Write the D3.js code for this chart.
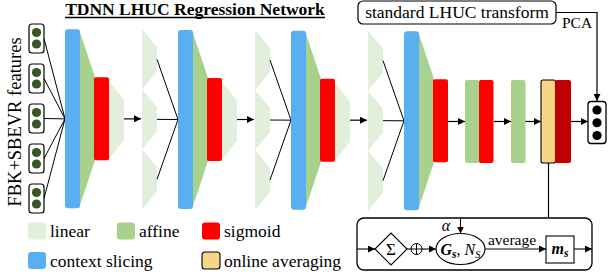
<!DOCTYPE html>
<html>
<head>
<script src="https://d3js.org/d3.v7.min.js"></script>
<style>
  body { margin: 0; background: #fff; }
  svg text { font-family: "Liberation Serif", "Times New Roman", serif; fill: #000; }
</style>
</head>
<body>
<svg width="610" height="275" id="mainSvg" font-family="Liberation Serif"></svg>
<script>
// ---- diagram content ----
const title = "TDNN LHUC Regression Network";
const inputLabel = "FBK+SBEVR features";
const featureFrames = ["t-2", "t-1", "t", "t+1", "t+2"];
const tdnnBlocks = [0, 1, 2, 3];
const spliceTaps = ["-1", "0", "+1"];
const outputNodes = [0, 1, 2];
const legendLabels = ["linear", "affine", "sigmoid", "context slicing", "online averaging"];
const legendKeys = ["linear", "affine", "sigmoid", "context", "online"];

const colors = {
  linear: "#e2efda",
  affine: "#a9d18e",
  sigmoid: "#ff0000",
  context: "#5aaff0",
  online: "#f6d686",
  "output sigmoid": "#c00000",
  feat: "#375623"
};

const svg = d3.select("#mainSvg");
const defs = svg.append("defs");
defs.append("marker").attr("id", "arr")
  .attr("viewBox", "0 0 10 10").attr("refX", 10).attr("refY", 5)
  .attr("markerWidth", 7).attr("markerHeight", 7).attr("markerUnits", "userSpaceOnUse")
  .attr("orient", "auto")
  .append("path").attr("d", "M0,0 L10,5 L0,10 z").attr("fill", "#000");

// slight downward drift of the centre line across the figure
const cy = d3.scaleLinear().domain([0, 610]).range([118.5, 122]);
const xBlock = d3.scaleLinear().domain([0, 3]).range([65, 404]);
const yFeat = d3.scalePoint().domain(featureFrames).range([38.5, 198.5]);
const yTap = d3.scalePoint().domain(spliceTaps).range([0, 2]);

const g = svg.append("g");
const serif = "Liberation Serif";

function poly(pts) { return "M" + pts.map(p => p.join(",")).join("L") + "Z"; }
function label(x, y, size, txt) {
  return g.append("text").attr("x", x).attr("y", y).attr("text-anchor", "middle")
    .attr("font-family", serif).attr("font-size", size).text(txt);
}

// ---- title ----
label(195, 15, 17.5, title).attr("font-weight", "bold");
g.append("line").attr("x1", 65).attr("x2", 325).attr("y1", 17.5).attr("y2", 17.5)
  .attr("stroke", "#000").attr("stroke-width", 1.3);

// ---- input features ----
g.append("text").attr("transform", `translate(21,122) rotate(-90)`)
  .attr("font-family", serif).attr("text-anchor", "middle").attr("font-size", 18.5).text(inputLabel);

const feat = g.selectAll(".feat").data(featureFrames).join("g").attr("class", "feat");
feat.append("line")
  .attr("x1", 44).attr("y1", d => yFeat(d))
  .attr("x2", xBlock(0)).attr("y2", cy(xBlock(0)))
  .attr("stroke", "#000").attr("stroke-width", 1);
feat.append("rect")
  .attr("x", 29).attr("y", d => yFeat(d) - 14.5).attr("width", 15).attr("height", 29)
  .attr("rx", 3).attr("fill", "#fff").attr("stroke", "#000").attr("stroke-width", 1.2);
feat.selectAll("circle").data(d => [yFeat(d) - 6, yFeat(d) + 5.5]).join("circle")
  .attr("cx", 36.5).attr("cy", d => d).attr("r", 4.6).attr("fill", colors.feat);

// ---- TDNN blocks ----
const blk = g.selectAll(".blk").data(tdnnBlocks).join("g").attr("class", "blk")
  .attr("transform", d => `translate(${xBlock(d)},0)`);

blk.each(function (b) {
  const s = d3.select(this);
  const x0 = xBlock(b);
  const c = cy(x0);
  const top = c - 89.5, bot = c + 89.5;       // context slicing extent
  const rTop = c - 41.5, rBot = c + 41.5;     // sigmoid extent
  // affine taper
  s.append("path").attr("d", poly([[14, top], [30, rTop], [30, rBot], [14, bot]]))
    .attr("fill", colors.affine);
  s.append("rect").attr("x", 0).attr("y", top).attr("width", 15).attr("height", bot - top)
    .attr("rx", 3).attr("fill", colors.context);
  s.append("rect").attr("x", 29).attr("y", rTop).attr("width", 15).attr("height", rBot - rTop)
    .attr("rx", 2).attr("fill", colors.sigmoid);
  if (b < 3) {
    // linear taper after sigmoid
    s.append("path").attr("d", poly([[44, rTop + 4], [59, c - 19], [59, c + 21], [44, rBot - 1]]))
      .attr("fill", colors.linear);
    s.append("line").attr("x1", 59).attr("x2", 76).attr("y1", c).attr("y2", c)
      .attr("stroke", "#000").attr("stroke-width", 1.2).attr("marker-end", "url(#arr)");
    // spliced linear projections
    const nc = cy(xBlock(b + 1));
    spliceTaps.forEach(t => {
      const y0 = top + yTap(t) * 60, y1 = y0 + 60;
      s.append("path").attr("d", poly([[77, y0], [92, y0 + 18], [92, y1 - 18], [77, y1]]))
        .attr("fill", colors.linear);
      s.append("line").attr("x1", 92).attr("y1", y0 + 30).attr("x2", 113).attr("y2", nc)
        .attr("stroke", "#000").attr("stroke-width", 1);
    });
  }
});

// ---- tail layers ----
const tailBars = [
  { k: "affine", x: 465 }, { k: "sigmoid", x: 479 }, { k: "affine", x: 511 },
  { k: "online", x: 541 }, { k: "output sigmoid", x: 555 }
];
const tc = cy(520);
[[448, 465], [494, 511], [525, 541], [571, 588]].forEach(([a, b2]) => {
  g.append("line").attr("x1", a).attr("x2", b2).attr("y1", tc).attr("y2", tc)
    .attr("stroke", "#000").attr("stroke-width", 1.2).attr("marker-end", "url(#arr)");
});
g.selectAll(".tail").data(tailBars).join("rect").attr("class", "tail")
  .attr("x", d => d.x).attr("y", tc - 41.5).attr("width", d => d.k === "output sigmoid" ? 16 : 14.5)
  .attr("height", 83).attr("rx", 2)
  .attr("fill", d => colors[d.k])
  .attr("stroke", d => d.k === "online" ? "#000" : "none").attr("stroke-width", 1.1);

// output node box
g.append("rect").attr("x", 588).attr("y", 101.5).attr("width", 18).attr("height", 42)
  .attr("rx", 3).attr("fill", "#fff").attr("stroke", "#000").attr("stroke-width", 1.3);
const yOut = d3.scalePoint().domain(outputNodes).range([110, 135.5]);
g.selectAll(".onode").data(outputNodes).join("circle").attr("class", "onode")
  .attr("cx", 597).attr("cy", d => yOut(d)).attr("r", 4.6).attr("fill", "#000");

// ---- standard LHUC transform ----
g.append("rect").attr("x", 358).attr("y", 1).attr("width", 198).attr("height", 23)
  .attr("rx", 5).attr("fill", "#fff").attr("stroke", "#000").attr("stroke-width", 1.2);
label(457, 18, 17.5, "standard LHUC transform");
g.append("path").attr("d", "M556,12.5H597V101").attr("fill", "none")
  .attr("stroke", "#000").attr("stroke-width", 1.2).attr("marker-end", "url(#arr)");
label(577, 27.5, 15.5, "PCA");

// ---- online averaging detail ----
g.append("line").attr("x1", 548.5).attr("x2", 548.5).attr("y1", tc + 41.5).attr("y2", 218)
  .attr("stroke", "#000").attr("stroke-width", 1.2);
g.append("rect").attr("x", 357).attr("y", 218).attr("width", 235).attr("height", 52)
  .attr("rx", 7).attr("fill", "#fff").attr("stroke", "#000").attr("stroke-width", 1.3);
const by = 249;
const arrowSeg = (x1, x2, y1 = by, y2 = by) => g.append("line")
  .attr("x1", x1).attr("x2", x2).attr("y1", y1).attr("y2", y2)
  .attr("stroke", "#000").attr("stroke-width", 1.1).attr("marker-end", "url(#arr)");
arrowSeg(357, 375);
g.append("path").attr("d", poly([[375, by], [391, by - 16], [407, by], [391, by + 16]]))
  .attr("fill", "#fff").attr("stroke", "#000").attr("stroke-width", 1.1);
label(391, by + 6, 17, "Σ");
g.append("line").attr("x1", 407).attr("x2", 411).attr("y1", by).attr("y2", by)
  .attr("stroke", "#000").attr("stroke-width", 1.1);
g.append("circle").attr("cx", 416.5).attr("cy", by).attr("r", 5.5)
  .attr("fill", "#fff").attr("stroke", "#000").attr("stroke-width", 1);
g.append("path").attr("d", `M411,${by}H422M416.5,${by - 5.5}V${by + 5.5}`)
  .attr("stroke", "#000").attr("stroke-width", 1);
arrowSeg(422, 436);
g.append("ellipse").attr("cx", 460.5).attr("cy", by).attr("rx", 24.5).attr("ry", 15.5)
  .attr("fill", "#fff").attr("stroke", "#000").attr("stroke-width", 1.1);
const gs = label(460.5, by + 5.5, 16, null);
gs.append("tspan").attr("font-weight", "bold").attr("font-style", "italic").text("G");
gs.append("tspan").attr("font-weight", "bold").attr("font-style", "italic")
  .attr("font-size", 11.5).attr("dy", 3).text("s");
gs.append("tspan").attr("dy", -3).text(", ");
gs.append("tspan").attr("font-style", "italic").text("N");
gs.append("tspan").attr("font-style", "italic").attr("font-size", 11).attr("dy", 3).text("S");
arrowSeg(460.5, 460.5, 218, 233.5);
label(446, 230.5, 16, "α").attr("font-style", "italic");
arrowSeg(485, 546);
label(512, 245, 15.5, "average");
g.append("rect").attr("x", 546).attr("y", 236).attr("width", 28).attr("height", 27)
  .attr("fill", "#fff").attr("stroke", "#000").attr("stroke-width", 1.1);
const ms = label(560, by + 5, 16, null).attr("font-weight", "bold").attr("font-style", "italic");
ms.append("tspan").text("m");
ms.append("tspan").attr("font-size", 11.5).attr("dy", 3).text("s");
arrowSeg(574, 592);

// ---- legend ----
const legX = [28, 117, 202, 28, 202];
const legY = [222.5, 222.5, 222.5, 252, 252];
const leg = g.selectAll(".leg").data(legendLabels).join("g").attr("class", "leg")
  .attr("transform", (d, i) => `translate(${legX[i]},${legY[i]})`);
leg.append("rect").attr("width", 18).attr("height", 17).attr("rx", 3)
  .attr("fill", (d, i) => colors[legendKeys[i]])
  .attr("stroke", (d, i) => legendKeys[i] === "online" ? "#000" : "none").attr("stroke-width", 1.1);
leg.append("text").attr("x", 22).attr("y", 14.5).attr("font-family", serif)
  .attr("font-size", 17.5).text(d => d);
</script>
</body>
</html>
